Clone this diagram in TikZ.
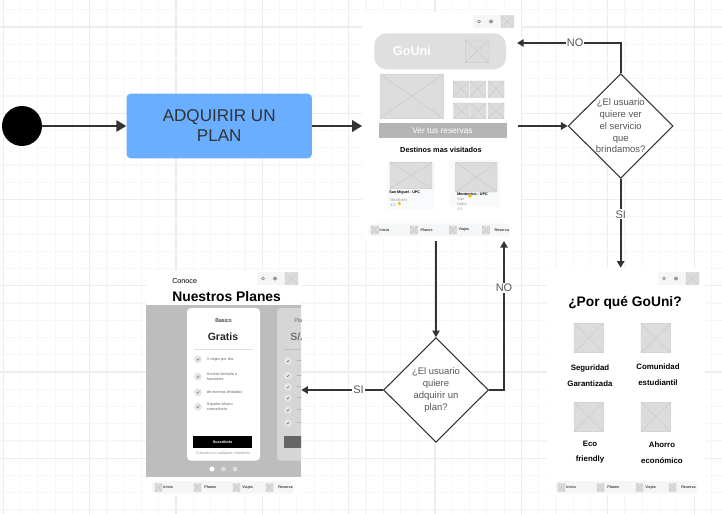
\documentclass[tikz,border=0pt]{standalone}
\usepackage{fontspec}
\setmainfont{Liberation Sans}
\usepackage{xcolor}
\usetikzlibrary{arrows.meta,positioning,shapes.geometric}

\definecolor{planblue}{HTML}{6AAEFF}
\definecolor{inkdark}{HTML}{333333}
\definecolor{inkgray}{HTML}{555555}
\definecolor{wirefill}{HTML}{DCDCDC}
\definecolor{wireline}{HTML}{CACACA}
\definecolor{barfill}{HTML}{F5F6F8}
\definecolor{bandgray}{HTML}{BDBDBD}

\newcommand{\pxf}[1]{\fontsize{#1}{#1}\selectfont}
% placeholder image
\newcommand{\wireph}[4]{\draw[wire] (#1,#2) rectangle (#3,#4) (#1,#2) -- (#3,#4) (#1,#4) -- (#3,#2);}
% search, bell and avatar bar
\newcommand{\wiretop}[2]{
  \fill[barfill] (#1,#2) rectangle +(42,13);
  \draw[gray, line width=.4pt] (#1+6,#2+6.5) circle (1.6);
  \fill[gray!80] (#1+18,#2+6.5) circle (2);
  \wireph{#1+28}{#2+.5}{#1+40.5}{#2+12.5}
}
% bottom menu
\newcommand{\wirenav}[3]{
  \fill[barfill, rounded corners=3pt] (#2,#3) rectangle +(142,12.5);
  \foreach \ix/\tx/\txt in {3/11/Inicio, 42/52/Planes, 81/90/Viajes, 114/126/Reserva}{
    \wireph{#2+\ix}{#3+2.5}{#2+\ix+7}{#3+10.5}
    \node[tinytxt, anchor=west] (#1\txt) at (#2+\tx,#3+6.5) {\txt};
  }
}
% bullet with check mark
\newcommand{\wirecheck}[2]{
  \fill[gray!20] (#1,#2) circle (4);
  \draw[gray!90!black, line width=.4pt] (#1-1.2,#2) -- (#1-.3,#2+1) -- (#1+1.3,#2-1);
}

\begin{document}
\begin{tikzpicture}[
    x=0.75pt, y=-0.75pt,
    node distance=37.5pt,
    screen/.style={fill=white, inner sep=0pt},
    flowbox/.style={fill=planblue, rounded corners=3pt, align=center, minimum width=139pt, minimum height=48.4pt, text=inkdark, font=\fontsize{12.8}{15}\selectfont},
    decision/.style={draw=inkdark, line width=.8pt, fill=white, diamond, aspect=1, inner sep=-4pt, minimum width=78.75pt, minimum height=78.4pt, align=center, text=inkgray, font=\fontsize{7.1}{8.8}\selectfont},
    arrow/.style={-{Triangle[length=5pt,width=5.5pt]}, draw=inkdark, line width=1.6pt},
    bigarrow/.style={-{Triangle[length=7.5pt,width=8.5pt]}, draw=inkdark, line width=1.6pt},
    edgelabel/.style={fill=white, inner sep=.8pt, text=inkgray, font=\fontsize{8.2}{9}\selectfont},
    wire/.style={draw=wireline, line width=.35pt, fill=wirefill},
    tinytxt/.style={inner sep=0pt, font=\bfseries\fontsize{2.8}{3}\selectfont, text=black!75},
    smalltxt/.style={inner sep=0pt, font=\fontsize{2.9}{4.2}\selectfont, text=black!60, align=left},
    boldtxt/.style={inner sep=0pt, font=\bfseries\fontsize{5.9}{7}\selectfont, text=black}
]
\useasboundingbox (0,0) rectangle (722,514);
% grid
\foreach \i in {0,...,41} \draw[black!3, line width=.9pt] (3.3+17.27*\i,0) -- (3.3+17.27*\i,514);
\foreach \i in {0,...,29} \draw[black!3, line width=.9pt] (0,9.75+17.25*\i) -- (722,9.75+17.25*\i);
\foreach \i in {0,...,8} \draw[black!7, line width=.9pt] (3.3+86.35*\i,0) -- (3.3+86.35*\i,514);
\foreach \i in {0,...,5} \draw[black!7, line width=.9pt] (0,27+86.25*\i) -- (722,27+86.25*\i);

% flow nodes
\node[circle, fill=black, minimum size=30pt, inner sep=0pt] (start) at (22,126) {};
\node[flowbox, right=63pt of start] (plan) {ADQUIRIR UN\\PLAN};
\node[screen, minimum width=119.25pt, minimum height=171.75pt, right=of plan] (home) {};
\node[decision, right=34.5pt of home] (asksrv) {¿El usuario\\quiere ver\\el servicio\\que\\brindamos?};
\node[screen, minimum width=118.5pt, minimum height=170.25pt] (why) at (626,381.5) {};
\node[screen, minimum width=116.25pt, minimum height=169.5pt] (plans) at (223.5,383) {};
\node[decision] (askplan) at (436,390) {¿El usuario\\quiere\\adquirir un\\plan?};
\coordinate (homeno) at (517,43);
\coordinate (homeback) at (504,241);

% home screen
\wiretop{473}{15}
\fill[wirefill!90!white, rounded corners=9pt] (374.3,33.3) rectangle (506,69.3);
\node[inner sep=0pt, anchor=west, text=white, font=\bfseries\fontsize{9.5}{11}\selectfont] (gouni) at (392.7,51) {GoUni};
\wireph{465.3}{40}{489}{62.7}
\wireph{380}{74}{443.3}{118.3}
\wireph{453.3}{81}{469}{97.3}
\wireph{470}{81}{485.3}{97.3}
\wireph{488}{81}{504}{97.3}
\wireph{453.5}{103}{469.5}{118.7}
\wireph{470.5}{103}{486}{118.7}
\wireph{488}{103}{504}{118.7}
\fill[black!29] (379.3,123.3) rectangle (506.7,138.3);
\node[inner sep=0pt, text=white, font=\fontsize{6.25}{8}\selectfont] (reservas) at (442.5,131) {Ver tus reservas};
\node[boldtxt, font=\bfseries\fontsize{5.5}{7}\selectfont] (destinos) at (441,150) {Destinos mas visitados};
\fill[barfill!60!white] (386.7,160.7) rectangle (435,210);
\fill[barfill!60!white] (449.3,160) rectangle (500,207);
\wireph{390}{162.3}{432}{188.7}
\wireph{455.7}{162.3}{497}{192}
\node[tinytxt, anchor=west, text=black] (sanmiguel) at (389,193) {San Miguel - UPC};
\node[smalltxt, anchor=west, text=black!40] (miraflo) at (390,200) {Miraflores};
\node[smalltxt, anchor=west, text=black!40] (rate) at (390,205) {4.5};
\fill[orange!55!yellow] (399.3,203.5) circle (1.8);
\node[tinytxt, anchor=west, text=black] (monterrico) at (457,194) {Monterrico - UPC};
\node[smalltxt, anchor=west, text=black!40] (sanis) at (457,199) {San};
\node[smalltxt, anchor=west, text=black!40] (isidro) at (457,204) {Isidro};
\node[smalltxt, anchor=west, text=black!40] (ratetwo) at (457,209) {4.5};
\fill[orange!55!yellow] (470,196) circle (1.8);
\wirenav{home}{368.3}{223.5}

% plans screen
\fill[bandgray] (146,305) rectangle (301,477);
\fill[white, rounded corners=3pt] (187,308) rectangle (260,460.7);
\begin{scope}
\clip (146,305) rectangle (301,477);
\fill[black!16, rounded corners=3pt] (277,308) rectangle (340,460.7);
\fill[black!60] (284,436) rectangle (340,448.3);
\node[inner sep=0pt, anchor=west, font=\fontsize{4.1}{5}\selectfont, text=black!60] (plantwo) at (294,320.7) {Plan};
\node[inner sep=0pt, anchor=west, font=\bfseries\fontsize{7.9}{9}\selectfont, text=black!55] (soles) at (290,337) {S/.20};
\draw[black!25, line width=.5pt] (284,349.3) -- (340,349.3);
\foreach \cy in {361,375.7,387,398,410,423}{
  \wirecheck{288}{\cy}
  \draw[black!30, line width=.6pt] (297,\cy-.8) -- (340,\cy-.8);
}
\end{scope}
\node[inner sep=0pt, anchor=west, font=\fontsize{5.4}{6}\selectfont, text=black] (conoce) at (172,281) {Conoce};
\node[inner sep=0pt, anchor=base west, font=\bfseries\fontsize{10.4}{12}\selectfont, text=black] (nuestros) at (172,301.7) {Nuestros Planes};
\wiretop{257}{272}
\node[inner sep=0pt, font=\fontsize{4.1}{5}\selectfont, text=black] (basico) at (223.5,320.7) {Basico};
\node[inner sep=0pt, font=\bfseries\fontsize{7.9}{9}\selectfont, text=black!85] (gratis) at (223,337) {Gratis};
\draw[black!12, line width=.5pt] (194,349.3) -- (253,349.3);
\wirecheck{198}{359.3}
\wirecheck{198}{376.7}
\wirecheck{198}{392.3}
\wirecheck{198}{406.7}
\node[smalltxt, anchor=west] (featone) at (206.7,359.3) {3 viajes por día};
\node[smalltxt, anchor=west] (feattwo) at (206.7,376.7) {Acceso limitado a\\funciones};
\node[smalltxt, anchor=west] (featthree) at (206.7,392.3) {de eventos limitados};
\node[smalltxt, anchor=west] (featfour) at (206.7,406.7) {Soporte básico\\comunitario};
\fill[black] (193,436) rectangle (252.3,448.3);
\node[tinytxt, text=white] (suscribe) at (222.7,442.2) {Suscribirte};
\node[smalltxt, text=black!40] (cancela) at (223,453.7) {Cancela en cualquier momento};
\fill[white] (212,469) circle (2.5);
\fill[black!14] (223.5,469) circle (2.5);
\fill[black!14] (235,469) circle (2.5);
\wirenav{plans}{152}{481}

% why screen
\wiretop{658}{272}
\node[inner sep=0pt, anchor=base west, font=\bfseries\fontsize{10.35}{12}\selectfont, text=black] (porque) at (568,306) {¿Por qué GoUni?};
\wireph{574}{323.3}{603.3}{352.7}
\wireph{641}{323.3}{670.7}{352.7}
\wireph{574}{402.3}{603.3}{431.7}
\wireph{641}{402.3}{670.7}{431.7}
\node[boldtxt] (seguridad) at (590,368) {Seguridad};
\node[boldtxt] (garantizada) at (590,384) {Garantizada};
\node[boldtxt] (comunidad) at (658,367) {Comunidad};
\node[boldtxt] (estudiantil) at (658,383) {estudiantil};
\node[boldtxt] (eco) at (590,444) {Eco};
\node[boldtxt] (friendly) at (590,459.5) {friendly};
\node[boldtxt] (ahorro) at (662,445) {Ahorro};
\node[boldtxt] (economico) at (662,460.5) {económico};
\wirenav{why}{555}{481}

% connectors
\draw[bigarrow] (start) -- (plan);
\draw[bigarrow] (plan) -- (home);
\draw[arrow] ([xshift=-3pt]home.east) -- (asksrv);
\draw[arrow] (asksrv.north) |- (homeno) node[edgelabel, pos=.72] (nosrv) {NO};
\draw[arrow] (asksrv.south) -- (asksrv.south |- why.north) node[edgelabel, pos=.4] (sisrv) {SI};
\draw[arrow] (askplan |- home.south) -- (askplan);
\draw[arrow] (askplan.east) -| (homeback) node[edgelabel, pos=.842] (noplan) {NO};
\draw[arrow] (askplan.west) -- (askplan -| plans.east) node[edgelabel, pos=.3] (siplan) {SI};
\end{tikzpicture}
\end{document}
